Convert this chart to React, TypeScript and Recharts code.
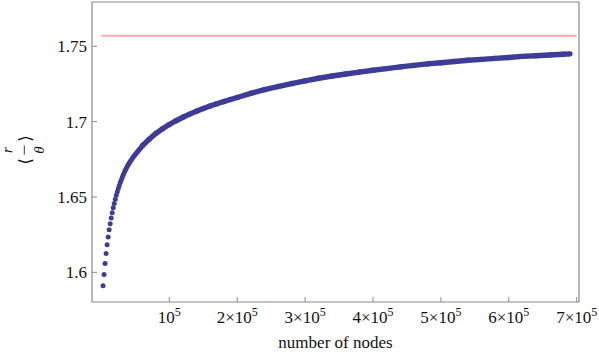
import React from 'react';
import { ScatterChart, Scatter, XAxis, YAxis, ReferenceLine, ReferenceArea } from 'recharts';

// number of nodes for the sparse (early) points and the dense part of the curve
const earlyNodes = [
  2400, 3900, 5400, 6900, 8400, 9900, 11400, 12900, 14400, 15900, 17400, 18900, 20400, 21900,
  23400, 24900, 26400, 27900, 29400, 30900, 32400, 33900, 35400, 36900, 38400, 39900, 41400,
  42900, 44400, 45900, 47400, 48900, 50400, 51900, 53400, 54900, 56400, 57900,
];
const earlyRatio = [
  1.5911, 1.5985, 1.6058, 1.6125, 1.6183, 1.6235, 1.6282, 1.6323, 1.6361, 1.6396, 1.6428, 1.6457,
  1.6485, 1.6511, 1.6535, 1.6557, 1.6577, 1.6597, 1.6615, 1.6633, 1.665, 1.6665, 1.6679, 1.6692,
  1.6705, 1.6717, 1.6728, 1.6739, 1.6749, 1.6759, 1.6768, 1.6777, 1.6786, 1.6794, 1.6802, 1.681,
  1.6818, 1.6825,
];
const lateNodes = [
  60000, 70000, 80000, 90000, 100000, 110000, 120000, 130000, 140000, 150000, 160000, 170000,
  180000, 190000, 200000, 220000, 240000, 260000, 280000, 300000, 320000, 340000, 360000, 380000,
  400000, 420000, 440000, 460000, 480000, 500000, 520000, 540000, 560000, 580000, 600000, 620000,
  640000, 660000, 680000, 690000,
];
const lateRatio = [
  1.6838, 1.6882, 1.6921, 1.6953, 1.6981, 1.7006, 1.7029, 1.705, 1.7069, 1.7087, 1.7104, 1.7119,
  1.7133, 1.7147, 1.716, 1.7188, 1.7212, 1.7233, 1.7253, 1.7271, 1.7288, 1.7303, 1.7316, 1.7329,
  1.7341, 1.7352, 1.7363, 1.7373, 1.7383, 1.7391, 1.7399, 1.7407, 1.7413, 1.742, 1.7426, 1.7433,
  1.7437, 1.7442, 1.7447, 1.745,
];

const limitValue = 1.757;
const limitStart = 0;
const limitEnd = 700000;

const xDomain = [-13850, 703400];
const yDomain = [1.5803, 1.7794];

const xTicks = [100000, 200000, 300000, 400000, 500000, 600000, 700000];
const xTickBase = ['10', '2×10', '3×10', '4×10', '5×10', '6×10', '7×10'];
const xTickExponent = '5';
const yTicks = [1.6, 1.65, 1.7, 1.75];
const yTickLabels = ['1.6', '1.65', '1.7', '1.75'];
const xLabel = 'number of nodes';

const DOT = '#3d3d99';
const FRAME = '#8a8a8a';
const SERIF = 'Tinos, "Liberation Serif", "Times New Roman", Times, "DejaVu Serif", serif';

const earlyData = earlyNodes.map((n, i) => ({ x: n, y: earlyRatio[i] }));
const lateData = lateNodes.map((n, i) => ({ x: n, y: lateRatio[i] }));

const Dot = (props: any) => {
  const { cx, cy } = props;
  if (cx == null || cy == null) return null;
  return <circle cx={cx} cy={cy} r={2.5} fill={DOT} />;
};
const BigDot = (props: any) => {
  const { cx, cy } = props;
  if (cx == null || cy == null) return null;
  return <circle cx={cx} cy={cy} r={2.7} fill={DOT} />;
};

const XTick = (props: any) => {
  const { x, y, payload } = props;
  const i = xTicks.indexOf(payload.value);
  return (
    <text x={x} y={y + 16} textAnchor="middle" style={{ fontFamily: SERIF }} fontSize={17} fill="#111">
      {xTickBase[i]}
      <tspan dy={-7} fontSize={12}>
        {xTickExponent}
      </tspan>
    </text>
  );
};

const YTick = (props: any) => {
  const { x, y, payload } = props;
  const i = yTicks.indexOf(payload.value);
  return (
    <text x={x} y={y + 6} textAnchor="end" style={{ fontFamily: SERIF }} fontSize={17} fill="#111">
      {yTickLabels[i]}
    </text>
  );
};

const YLabel = () => (
  <g transform="translate(25,150) rotate(-90)" fill="#111">
    <text x={-11.5} y={-0.5} fontSize={17} textAnchor="middle" dominantBaseline="central" style={{ fontFamily: '"DejaVu Sans", sans-serif' }}>
      ⟨
    </text>
    <text x={11.5} y={-0.5} fontSize={17} textAnchor="middle" dominantBaseline="central" style={{ fontFamily: '"DejaVu Sans", sans-serif' }}>
      ⟩
    </text>
    <text x={0} y={-13} fontSize={15} fontStyle="italic" textAnchor="middle" style={{ fontFamily: SERIF }}>
      r
    </text>
    <line x1={-4.6} x2={4.6} y1={-0.7} y2={-0.7} stroke="#111" strokeWidth={0.8} />
    <text x={0} y={19} fontSize={15} fontStyle="italic" textAnchor="middle" style={{ fontFamily: SERIF }}>
      θ
    </text>
  </g>
);

export default function App() {
  return (
    <div style={{ position: 'absolute', left: 0, top: 0, background: '#fff' }}>
      <ScatterChart width={599} height={358} margin={{ top: 2, right: 20, bottom: 0, left: 0 }}>
        <XAxis
          dataKey="x"
          type="number"
          domain={xDomain}
          ticks={xTicks}
          allowDataOverflow
          height={56}
          axisLine={false}
          tickLine={{ stroke: FRAME }}
          tickSize={-5}
          tickMargin={10}
          tick={<XTick />}
          interval={0}
          label={{
            value: xLabel,
            position: 'insideBottom',
            offset: 10,
            style: { fontFamily: SERIF, fontSize: 17, fill: '#111' },
          }}
        />
        <YAxis
          dataKey="y"
          type="number"
          domain={yDomain}
          ticks={yTicks}
          allowDataOverflow
          width={92}
          axisLine={false}
          tickLine={{ stroke: FRAME }}
          tickSize={-5}
          tickMargin={10}
          interval={0}
          tick={<YTick />}
          label={{ content: () => <YLabel /> }}
        />
        <ReferenceArea
          x1={xDomain[0]}
          x2={xDomain[1]}
          y1={yDomain[0]}
          y2={yDomain[1]}
          fill="none"
          fillOpacity={0}
          stroke={FRAME}
          strokeWidth={1.2}
          ifOverflow="visible"
        />
        <ReferenceLine
          segment={[
            { x: limitStart, y: limitValue },
            { x: limitEnd, y: limitValue },
          ]}
          stroke="#ffa9a9"
          strokeWidth={2}
        />
        <Scatter data={earlyData} shape={<Dot />} isAnimationActive={false} />
        <Scatter
          data={lateData}
          shape={<BigDot />}
          line={{ stroke: DOT, strokeWidth: 5.4 }}
          lineType="joint"
          isAnimationActive={false}
        />
      </ScatterChart>
    </div>
  );
}
